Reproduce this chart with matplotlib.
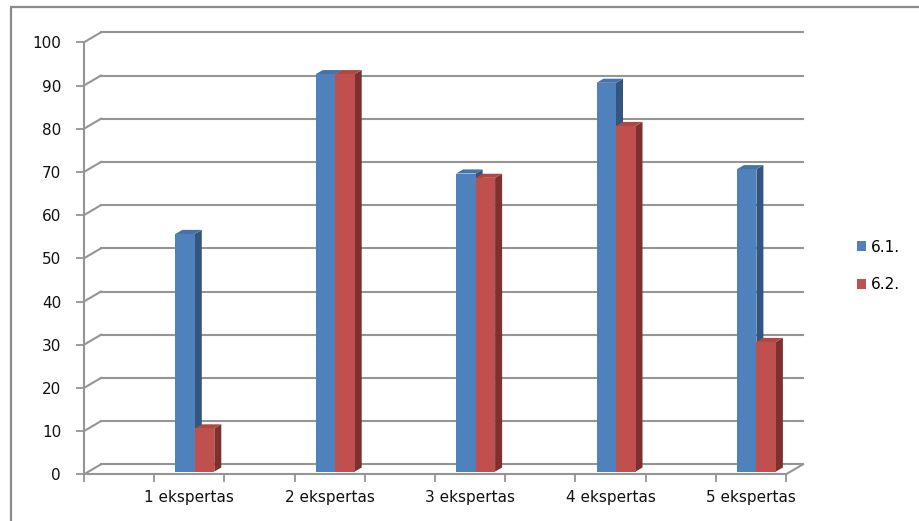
import numpy as np
import matplotlib
matplotlib.use("Agg")
import matplotlib.pyplot as plt
from matplotlib.patches import Polygon, Rectangle, Patch

# ---- data ----
categories = ["1 ekspertas", "2 ekspertas", "3 ekspertas", "4 ekspertas", "5 ekspertas"]
series_names = ["6.1.", "6.2."]
values_61 = [55, 92, 69, 90, 70]
values_62 = [10, 92, 68, 80, 30]
y_ticks = [0, 10, 20, 30, 40, 50, 60, 70, 80, 90, 100]

front_cols = ["#4F81BD", "#C0504D"]
top_cols = ["#4573AA", "#AE4845"]
side_cols = ["#34557E", "#7E302E"]
grid_col = "#959595"

plt.rcParams["font.family"] = ["DejaVu Sans"]
W, H = 919, 521
fig = plt.figure(figsize=(W / 100, H / 100), dpi=100)

# front plane of the plot (pixels from top-left)
x_left, x_right = 84, 786
y_bot, y_top = 474.3, 42.3
ax = fig.add_axes([x_left / W, 1 - y_bot / H, (x_right - x_left) / W, (y_bot - y_top) / H])
xmin, xmax = -0.75, 4.25
ax.set_xlim(xmin, xmax)
ax.set_ylim(0, 100)
ax.patch.set_visible(False)
for s in ax.spines.values():
    s.set_visible(False)

px_x = (x_right - x_left) / (xmax - xmin)   # pixels per category unit
px_y = (y_bot - y_top) / 100.0              # pixels per value unit

# depth of the wall / floor
DX, DY = 17 / px_x, 10 / px_y

# back wall gridlines and left wall diagonals
for t in y_ticks:
    ax.plot([xmin + DX, xmax + DX], [t + DY, t + DY], color=grid_col, lw=1.5,
            clip_on=False, zorder=1)
    ax.plot([xmin, xmin + DX], [t, t + DY], color=grid_col, lw=1.5,
            clip_on=False, zorder=1)
# floor: front edge and right side
ax.plot([xmin, xmax], [0, 0], color=grid_col, lw=1.5, clip_on=False, zorder=1)
ax.plot([xmax, xmax + DX], [0, DY], color=grid_col, lw=1.5, clip_on=False, zorder=1)
# front vertical axis
ax.plot([xmin, xmin], [0, 100], color=grid_col, lw=1.5, clip_on=False, zorder=1)

# 3-D columns
bar_w = 19.5 / px_x
off_x, off_y = 5.5 / px_x, 2.7 / px_y       # front face placement inside the depth
dep_x, dep_y = 7 / px_x, 4.1 / px_y          # column depth
xs = np.arange(len(categories))
for si, vals in enumerate([values_61, values_62]):
    for xi, v in zip(xs, vals):
        x0 = xi - bar_w + si * bar_w + off_x
        x1 = x0 + bar_w
        b, tp = off_y, off_y + v
        side = Polygon([(x1, b), (x1 + dep_x, b + dep_y), (x1 + dep_x, tp + dep_y), (x1, tp)],
                       closed=True, fc=side_cols[si], ec="none", clip_on=False, zorder=3)
        top = Polygon([(x0, tp), (x1, tp), (x1 + dep_x, tp + dep_y), (x0 + dep_x, tp + dep_y)],
                      closed=True, fc=top_cols[si], ec="none", clip_on=False, zorder=3)
        ax.add_patch(side)
        ax.add_patch(top)
    ax.bar(xs - bar_w / 2 + si * bar_w + off_x, vals, width=bar_w, bottom=off_y,
           color=front_cols[si], edgecolor="none", zorder=3, clip_on=False)

# ticks
ax.set_yticks(y_ticks)
ax.tick_params(axis="y", length=6, width=1.3, color=grid_col, pad=10.5,
               labelsize=11, labelcolor="#111111")
ax.set_xticks(np.arange(xmin, xmax + 0.01, 0.5))
ax.set_xticklabels([])
ax.tick_params(axis="x", which="major", length=6, width=1.3, color=grid_col)
ax.set_xticks(xs, minor=True)
ax.set_xticklabels(categories, minor=True)
ax.tick_params(axis="x", which="minor", length=0, pad=11, labelsize=11,
               labelcolor="#111111")

# legend
handles = [Patch(fc=front_cols[i], ec="none") for i in range(2)]
fig.legend(handles, series_names, loc="center left",
           bbox_to_anchor=(849 / W, 1 - 266 / H), frameon=False,
           fontsize=11, handlelength=0.6, handleheight=0.6,
           handletextpad=0.35, labelspacing=1.5, borderpad=0)

# outer frame
fig.patches.append(Rectangle((11 / W, -0.1), 1.2, (H - 6.5) / H + 0.1,
                             transform=fig.transFigure, fill=False,
                             ec="#8A8A8A", lw=1.6))

fig.savefig("out.png", dpi=100)
